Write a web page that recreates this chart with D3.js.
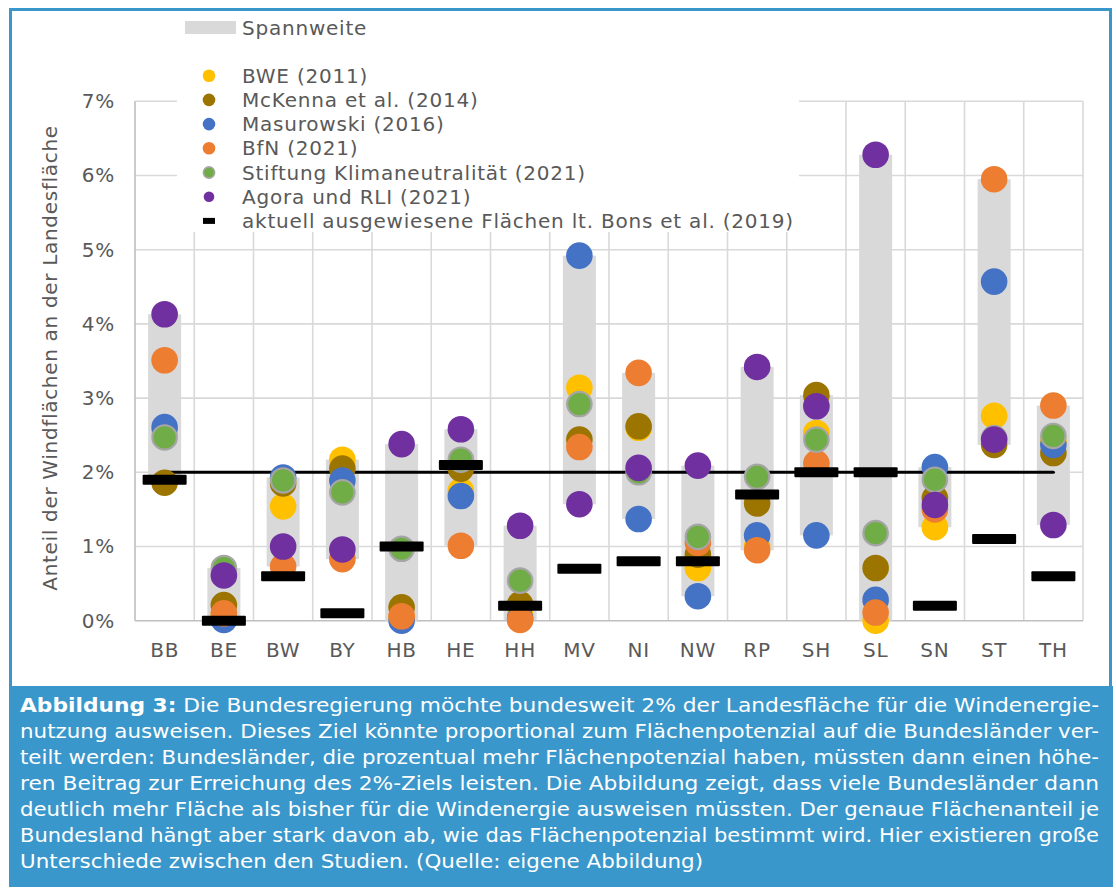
<!DOCTYPE html>
<html>
<head>
<meta charset="utf-8">
<script src="https://cdn.jsdelivr.net/npm/d3@7"></script>
<style>
  html, body { margin: 0; padding: 0; background: #fff; }
  svg { display: block; font-family: "DejaVu Sans", Verdana, sans-serif; }
</style>
</head>
<body>
<svg id="chart" width="1116" height="889"></svg>
<script>
// ---------- DATA ----------
const categories = ["BB","BE","BW","BY","HB","HE","HH","MV","NI","NW","RP","SH","SL","SN","ST","TH"];
const bwe        = [2.55, 0.08, 1.54, 2.17, 0.05, 1.75, 0.08, 3.14, 2.60, 0.71, 1.00, 2.53, 0.00, 1.26, 2.76, 2.42];
const mckenna    = [1.86, 0.21, 1.85, 2.05, 0.18, 2.05, 0.22, 2.44, 2.62, 0.89, 1.58, 3.04, 0.71, 1.65, 2.37, 2.26];
const masurowski = [2.61, 0.01, 1.93, 1.89, 0.00, 1.68, 0.03, 4.92, 1.37, 0.33, 1.15, 1.15, 0.28, 2.07, 4.57, 2.37];
const bfn        = [3.51, 0.10, 0.73, 0.83, 0.06, 1.01, 0.01, 2.34, 3.34, 1.05, 0.95, 2.12, 0.11, 1.50, 5.95, 2.90];
const stiftung   = [2.47, 0.71, 1.89, 1.73, 0.97, 2.17, 0.54, 2.92, 2.00, 1.13, 1.94, 2.44, 1.18, 1.90, 2.46, 2.49];
const agora      = [4.13, 0.61, 1.00, 0.96, 2.38, 2.58, 1.28, 1.57, 2.06, 2.09, 3.42, 2.89, 6.28, 1.56, 2.44, 1.29];
const current    = [1.9, 0.0, 0.6, 0.1, 1.0, 2.1, 0.2, 0.7, 0.8, 0.8, 1.7, 2.0, 2.0, 0.2, 1.1, 0.6];
const target     = 2;
const yTicks     = [0, 1, 2, 3, 4, 5, 6, 7];

const seriesNames  = ["BWE (2011)", "McKenna et al. (2014)", "Masurowski (2016)", "BfN (2021)", "Stiftung Klimaneutralität (2021)", "Agora und RLI (2021)"];
const seriesValues = [bwe, mckenna, masurowski, bfn, stiftung, agora];
const seriesColors = ["#FFC000", "#9C7500", "#4472C4", "#ED7D31", "#70AD47", "#7030A0"];
const currentLabel = "aktuell ausgewiesene Flächen lt. Bons et al. (2019)";
const rangeLabel   = "Spannweite";
const yTitle       = "Anteil der Windflächen an der Landesfläche";

const captionBold = "Abbildung 3:";
const captionLines = [
  " Die Bundesregierung möchte bundesweit 2% der Landesfläche für die Windenergie-",
  "nutzung ausweisen. Dieses Ziel könnte proportional zum Flächenpotenzial auf die Bundesländer ver-",
  "teilt werden: Bundesländer, die prozentual mehr Flächenpotenzial haben, müssten dann einen höhe-",
  "ren Beitrag zur Erreichung des 2%-Ziels leisten. Die Abbildung zeigt, dass viele Bundesländer dann",
  "deutlich mehr Fläche als bisher für die Windenergie ausweisen müssten. Der genaue Flächenanteil je",
  "Bundesland hängt aber stark davon ab, wie das Flächenpotenzial bestimmt wird. Hier existieren große",
  "Unterschiede zwischen den Studien. (Quelle: eigene Abbildung)"
];

// ---------- LAYOUT ----------
const svg = d3.select("#chart");
const textColor = "#595959";
const gridColor = "#D9D9D9";
const frameBlue = "#3A97CB";
const ls = "0.78px";

const x = d3.scaleBand().domain(categories).range([135, 1083]).padding(0);
const y = d3.scaleLinear().domain([0, 7]).range([620.7, 101.3]);

// outer frame
svg.append("rect").attr("x", 10.5).attr("y", 9.5).attr("width", 1100).attr("height", 876)
  .attr("fill", "#fff").attr("stroke", frameBlue).attr("stroke-width", 3);

// gridlines horizontal
svg.append("g").selectAll("line").data(yTicks.filter(d => d > 0)).join("line")
  .attr("x1", 135).attr("x2", 1083).attr("y1", d => y(d)).attr("y2", d => y(d))
  .attr("stroke", gridColor).attr("stroke-width", 1.6);

// gridlines vertical (band boundaries)
const bounds = d3.range(categories.length + 1).map(i => x.range()[0] + i * x.step());
svg.append("g").selectAll("line").data(bounds.slice(1)).join("line")
  .attr("x1", d => d).attr("x2", d => d).attr("y1", y(7)).attr("y2", y(0))
  .attr("stroke", gridColor).attr("stroke-width", 1.6);

// axes lines
svg.append("line").attr("x1", 135).attr("x2", 135).attr("y1", y(7)).attr("y2", y(0))
  .attr("stroke", "#BFBFBF").attr("stroke-width", 1.6);
svg.append("line").attr("x1", 135).attr("x2", 1083).attr("y1", y(0)).attr("y2", y(0))
  .attr("stroke", "#BFBFBF").attr("stroke-width", 1.6);

// y axis labels
const yAxis = d3.axisLeft(y).tickValues(yTicks).tickFormat(d => d + "%").tickSize(0).tickPadding(20);
const gy = svg.append("g").attr("transform", "translate(135,0)").call(yAxis);
gy.select(".domain").remove();
gy.selectAll("text").attr("fill", textColor).style("font-size", "20px").style("font-family", "DejaVu Sans")
  .style("letter-spacing", ls);

// x axis labels
const xAxis = d3.axisBottom(x).tickSize(0).tickPadding(22);
const gx = svg.append("g").attr("transform", `translate(0,${y(0)})`).call(xAxis);
gx.select(".domain").remove();
gx.selectAll("text").attr("fill", textColor).style("font-size", "20px").style("font-family", "DejaVu Sans")
  .style("letter-spacing", ls);

// y title
svg.append("text").attr("transform", "translate(57,358) rotate(-90)")
  .attr("text-anchor", "middle").attr("fill", textColor).style("font-size", "20px")
  .style("letter-spacing", "0.68px")
  .text(yTitle);

// legend white box (covers gridlines)
svg.append("rect").attr("x", 177).attr("y", 40).attr("width", 622).attr("height", 192).attr("fill", "#fff");

// ---------- MARKS ----------
const rows = categories.map((c, i) => {
  const vals = seriesValues.map(s => s[i]);
  return { c, lo: d3.min(vals), hi: d3.max(vals) };
});

// range bars
svg.append("g").selectAll("rect").data(rows).join("rect")
  .attr("x", d => x(d.c) + x.bandwidth() / 2 - 16.5)
  .attr("width", 33)
  .attr("y", d => y(d.hi))
  .attr("height", d => y(d.lo) - y(d.hi))
  .attr("fill", gridColor);

// target line
const line = d3.line().x(d => x(d) + x.bandwidth() / 2).y(() => y(target));
svg.append("path").datum(categories).attr("d", line)
  .attr("fill", "none").attr("stroke", "#000").attr("stroke-width", 3).attr("stroke-linecap", "round");

// dots
seriesValues.forEach((vals, si) => {
  svg.append("g").selectAll("circle").data(vals).join("circle")
    .attr("cx", (d, i) => x(categories[i]) + x.bandwidth() / 2)
    .attr("cy", d => y(d))
    .attr("r", si === 4 ? 12.2 : 13.3)
    .attr("fill", seriesColors[si])
    .attr("stroke", si === 4 ? "#A5A5A5" : "none")
    .attr("stroke-width", si === 4 ? 2.2 : 0);
});

// current dashes
svg.append("g").selectAll("rect").data(current).join("rect")
  .attr("x", (d, i) => x(categories[i]) + x.bandwidth() / 2 - 22)
  .attr("y", d => y(d) - 5)
  .attr("width", 44).attr("height", 10).attr("rx", 1)
  .attr("fill", "#000");

// ---------- LEGEND ----------
const lg = svg.append("g").style("letter-spacing", ls);
lg.append("rect").attr("x", 185).attr("y", 21).attr("width", 51).attr("height", 13).attr("fill", gridColor);
lg.append("text").attr("x", 242).attr("y", 27.5).attr("dy", "0.35em").attr("fill", textColor)
  .style("font-size", "20px").text(rangeLabel);

const legendItems = seriesNames.map((n, i) => ({ n, color: seriesColors[i], i })).concat([{ n: currentLabel, i: 6 }]);
const rowY = i => 75.7 + i * 24.2;
legendItems.forEach(d => {
  if (d.i < 6) {
    lg.append("circle").attr("cx", 209).attr("cy", rowY(d.i))
      .attr("r", d.i === 5 ? 5.3 : (d.i === 4 ? 5.6 : 6.3))
      .attr("fill", d.color)
      .attr("stroke", d.i === 4 ? "#A5A5A5" : "none").attr("stroke-width", d.i === 4 ? 1.6 : 0);
  } else {
    lg.append("rect").attr("x", 203).attr("y", rowY(d.i) - 3).attr("width", 12).attr("height", 6).attr("fill", "#000");
  }
  lg.append("text").attr("x", 242).attr("y", rowY(d.i)).attr("dy", "0.35em").attr("fill", textColor)
    .style("font-size", "20px").text(d.n);
});

// ---------- CAPTION ----------
svg.append("rect").attr("x", 9).attr("y", 686).attr("width", 1104).attr("height", 201).attr("fill", frameBlue);
const capG = svg.append("g").attr("fill", "#fff").style("font-size", "19.5px");
captionLines.forEach((ln, i) => {
  const t = capG.append("text").attr("x", 20).attr("y", 711.5 + i * 26);
  if (i === 0) {
    t.append("tspan").style("font-weight", "bold").text(captionBold);
    t.append("tspan").text(ln);
  } else {
    t.text(ln);
  }
  t.attr("textLength", i < captionLines.length - 1 ? 1079 : 683).attr("lengthAdjust", "spacingAndGlyphs");
});
</script>
</body>
</html>
